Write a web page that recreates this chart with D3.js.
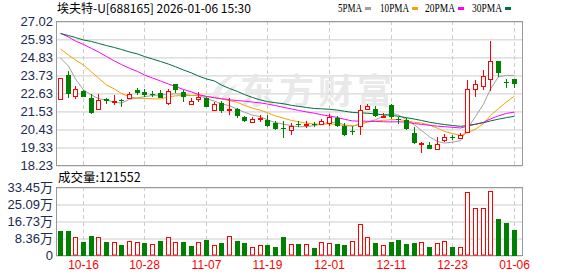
<!DOCTYPE html>
<html>
<head>
<meta charset="utf-8">
<script src="https://cdn.jsdelivr.net/npm/d3@7/dist/d3.min.js"></script>
<style>
    body { margin: 0; background: #fff; }
    svg { display: block; font-family: "Liberation Sans", Arial, sans-serif; }
</style>
</head>
<body>
<svg id="chart" width="578" height="276"></svg>
<script>
// ---- data ----
const dates = [
    "10-13", "10-14", "10-15", "10-16", "10-17", "10-20", "10-21", "10-22", "10-23", "10-24",
    "10-27", "10-28", "10-29", "10-30", "10-31", "11-03", "11-04", "11-05", "11-06", "11-07",
    "11-10", "11-11", "11-12", "11-13", "11-14", "11-17", "11-18", "11-19", "11-20", "11-21",
    "11-24", "11-25", "11-26", "11-27", "11-28", "12-01", "12-02", "12-03", "12-04", "12-05",
    "12-08", "12-09", "12-10", "12-11", "12-12", "12-15", "12-16", "12-17", "12-18", "12-19",
    "12-22", "12-23", "12-24", "12-25", "12-26", "12-29", "12-30", "12-31", "01-05", "01-06"
];
const opens = [
    22.24, 23.72, 22.46, 22.75, 22.30, 21.63, 22.24, 22.08, 22.22, 22.29,
    22.81, 22.67, 22.58, 22.61, 22.04, 23.15, 22.69, 21.98, 22.26, 22.29,
    21.56, 22.00, 21.57, 21.62, 21.14, 20.87, 21.04, 21.00, 20.79, 20.47,
    20.34, 20.75, 20.70, 20.73, 20.71, 20.81, 21.12, 20.59, 20.33, 20.64,
    21.62, 21.63, 21.19, 21.89, 21.02, 20.98, 20.16, 19.55, 19.45, 19.21,
    19.74, 19.91, 19.90, 20.26, 22.85, 23.05, 23.46, 24.56, 23.30, 23.46
];
const highs = [
    23.56, 23.97, 23.05, 22.79, 22.55, 22.56, 22.34, 22.50, 22.25, 22.67,
    22.95, 22.85, 22.75, 22.81, 22.87, 23.17, 22.81, 22.34, 22.67, 22.36,
    22.07, 22.15, 22.32, 21.69, 21.24, 21.16, 21.26, 21.31, 20.91, 20.91,
    20.79, 20.93, 20.94, 20.88, 21.02, 21.34, 21.22, 20.77, 20.61, 21.89,
    21.95, 21.83, 21.38, 21.95, 21.18, 21.07, 20.57, 19.63, 19.66, 19.94,
    20.10, 20.06, 20.16, 23.42, 23.39, 24.03, 25.78, 24.56, 23.46, 23.46
];
const lows = [
    22.20, 22.34, 22.24, 22.36, 21.32, 21.63, 21.98, 21.92, 21.74, 22.25,
    22.50, 22.38, 22.38, 22.30, 21.92, 22.62, 22.06, 21.94, 22.07, 21.75,
    21.56, 21.40, 21.28, 21.10, 20.84, 20.79, 20.88, 20.55, 20.37, 19.86,
    20.09, 20.57, 20.46, 20.55, 20.65, 20.64, 20.52, 20.02, 20.06, 20.08,
    21.56, 21.18, 21.07, 21.01, 20.71, 20.37, 19.51, 18.98, 19.19, 19.17,
    19.65, 19.76, 19.80, 20.16, 22.40, 22.81, 22.75, 23.63, 22.96, 22.90
];
const closes = [
    23.52, 22.55, 22.85, 22.40, 21.39, 22.20, 22.15, 22.14, 22.17, 22.55,
    22.62, 22.50, 22.53, 22.35, 22.72, 22.78, 22.38, 22.14, 22.38, 21.79,
    21.94, 21.54, 21.62, 21.24, 20.91, 21.02, 21.10, 20.64, 20.44, 20.41,
    20.61, 20.69, 20.76, 20.67, 20.90, 21.18, 20.59, 20.06, 20.27, 21.57,
    21.83, 21.24, 21.25, 21.13, 20.96, 20.41, 19.59, 19.60, 19.19, 19.51,
    19.94, 19.88, 20.09, 22.85, 23.17, 23.69, 24.55, 23.83, 23.25, 23.16
];
const ma5 = [
    24.76, 24.27, 23.48, 22.81, 22.50, 22.28, 22.20, 22.06, 22.01, 22.24,
    22.33, 22.40, 22.47, 22.51, 22.54, 22.58, 22.55, 22.47, 22.48, 22.29,
    22.13, 21.96, 21.85, 21.63, 21.45, 21.27, 21.18, 20.98, 20.82, 20.72,
    20.64, 20.56, 20.58, 20.63, 20.73, 20.84, 20.82, 20.68, 20.60, 20.73,
    20.86, 20.99, 21.23, 21.40, 21.28, 21.00, 20.67, 20.34, 19.95, 19.66,
    19.57, 19.62, 19.72, 20.45, 21.19, 21.94, 22.87, 23.62, 23.70, 23.70
];
const ma10 = [
    25.31, 24.94, 24.64, 24.33, 23.91, 23.54, 23.11, 22.87, 22.59, 22.39,
    22.30, 22.30, 22.27, 22.26, 22.39, 22.45, 22.47, 22.47, 22.50, 22.42,
    22.35, 22.26, 22.16, 22.05, 21.87, 21.70, 21.57, 21.42, 21.22, 21.09,
    20.95, 20.87, 20.78, 20.73, 20.72, 20.74, 20.69, 20.63, 20.61, 20.73,
    20.85, 20.91, 20.96, 21.00, 21.01, 20.93, 20.83, 20.79, 20.68, 20.47,
    20.28, 20.15, 20.03, 20.20, 20.42, 20.75, 21.25, 21.67, 22.08, 22.44
];
const ma20 = [
    26.27, 26.04, 25.80, 25.59, 25.34, 25.13, 24.85, 24.58, 24.36, 24.13,
    23.94, 23.72, 23.54, 23.36, 23.17, 23.02, 22.84, 22.69, 22.53, 22.41,
    22.33, 22.28, 22.21, 22.16, 22.13, 22.07, 22.02, 21.95, 21.86, 21.75,
    21.65, 21.56, 21.47, 21.39, 21.30, 21.22, 21.13, 21.02, 20.92, 20.91,
    20.90, 20.89, 20.87, 20.86, 20.87, 20.84, 20.76, 20.71, 20.65, 20.60,
    20.57, 20.53, 20.49, 20.60, 20.72, 20.84, 21.04, 21.23, 21.38, 21.46
];
const ma30 = [
    26.26, 26.13, 26.01, 25.86, 25.77, 25.65, 25.52, 25.40, 25.28, 25.13,
    25.01, 24.85, 24.70, 24.55, 24.39, 24.23, 24.03, 23.85, 23.66, 23.48,
    23.36, 23.11, 22.90, 22.72, 22.53, 22.35, 22.20, 22.10, 22.03, 21.97,
    21.87, 21.81, 21.74, 21.68, 21.66, 21.63, 21.58, 21.51, 21.44, 21.41,
    21.39, 21.34, 21.30, 21.26, 21.20, 21.12, 21.03, 20.95, 20.84, 20.76,
    20.70, 20.64, 20.59, 20.64, 20.72, 20.81, 20.92, 21.03, 21.12, 21.21
];
// volume in 万, and whether the bar is drawn red (1) or green (0)
const volumes = [
    11.8, 11.8, 8.7, 6.4, 9.3, 8.7, 6.4, 6.2, 4.9, 6.7,
    6.2, 5.9, 5.3, 6.9, 8.7, 6.2, 6.4, 4.4, 6.5, 7.4,
    4.9, 5.9, 9.3, 6.9, 5.9, 3.9, 4.9, 4.9, 4.1, 9.0,
    5.4, 5.4, 5.4, 3.6, 6.2, 5.7, 5.4, 4.9, 6.9, 15.1,
    8.9, 5.9, 4.9, 6.4, 7.4, 5.4, 5.9, 6.2, 3.9, 5.9,
    6.9, 3.9, 3.9, 30.8, 23.0, 23.0, 31.3, 17.7, 15.7, 12.16
];
const volUp = [
    0, 0, 1, 0, 0, 1, 0, 1, 0, 1,
    1, 0, 1, 0, 1, 1, 0, 0, 1, 0,
    1, 0, 1, 0, 0, 1, 1, 0, 0, 0,
    1, 0, 1, 0, 1, 1, 0, 0, 1, 1,
    1, 0, 1, 0, 0, 0, 0, 1, 0, 1,
    1, 0, 1, 1, 1, 1, 1, 0, 0, 0
];
const priceTicks = [18.23, 19.33, 20.43, 21.53, 22.63, 23.73, 24.83, 25.93, 27.02];
const volTicks = [0, 8.36, 16.73, 25.09, 33.45];
const dateTicks = ["10-16", "10-28", "11-07", "11-19", "12-01", "12-11", "12-23", "01-06"];
const maNames = ["5PMA", "10PMA", "20PMA", "30PMA"];
const title = "埃夫特-U[688165] 2026-01-06 15:30";
const volTitle = "成交量:121552";

// ---- layout ----
const svg = d3.select("#chart");
const left = 56, right = 522;
const priceTop = 21, priceBottom = 165;
const volTop = 187, volBottom = 255;
const RED = "#ff0000", GREEN = "#008000";
const maColors = ["#a0a0a0", "#f5a300", "#ff00ff", "#00703c"];
const axisColor = "#1a2a50";

const x = d3.scaleBand().domain(dates).range([left, left + dates.length * 7.69]);
const cx = (d) => Math.round(x(d) + x.bandwidth() / 2);
const y = d3.scaleLinear().domain([18.23, 27.02]).range([priceBottom, priceTop]);
const yv = d3.scaleLinear().domain([0, 33.45]).range([volBottom, volTop]);

// horizontal grid + price labels
svg.append("g")
    .attr("transform", `translate(${ left },0)`)
    .call(d3.axisLeft(y).tickValues(priceTicks).tickSize(-(right - left)).tickPadding(3).tickFormat(d3.format(".2f")))
    .call((g) => g.select(".domain").remove())
    .call((g) => g.selectAll("line").attr("stroke", "#cccccc").attr("transform", "translate(0,0.5)"))
    .call((g) => g.selectAll("text").attr("fill", axisColor).attr("font-size", 13));

svg.append("g")
    .attr("transform", `translate(${ left },0)`)
    .call(d3.axisLeft(yv).tickValues(volTicks).tickSize(-(right - left)).tickPadding(3)
        .tickFormat((d) => d === 0 ? "0" : d3.format(".2f")(d) + "万"))
    .call((g) => g.select(".domain").remove())
    .call((g) => g.selectAll("line").attr("stroke", "#cccccc").attr("transform", "translate(0,0.5)"))
    .call((g) => g.selectAll("text").attr("fill", axisColor).attr("font-size", 13)
        .attr("font-family", "'Liberation Sans', 'Noto Sans CJK SC', sans-serif"));

// vertical dashed grid in both panels
[[priceTop, priceBottom], [volTop, volBottom]].forEach(([t, b]) => {
    svg.append("g")
        .selectAll("line")
        .data(dateTicks)
        .join("line")
        .attr("x1", (d) => cx(d) + 0.5)
        .attr("x2", (d) => cx(d) + 0.5)
        .attr("y1", t)
        .attr("y2", b)
        .attr("stroke", "#cccccc")
        .attr("stroke-dasharray", "4,3");
});

// date labels
svg.append("g")
    .selectAll("text")
    .data(dateTicks)
    .join("text")
    .attr("x", (d) => cx(d) + 0.5)
    .attr("y", 269)
    .attr("text-anchor", "middle")
    .attr("font-size", 12)
    .attr("fill", RED)
    .text((d) => d);

// watermark: swoosh logo + name
const mark = svg.append("g").attr("fill", "#e6e6e6").attr("fill-opacity", 0.85);
mark.append("path")
    .attr("d", "M212,98 C214,86 224,76 238,74 C228,79 221,87 219,98 Z M222,99 C225,91 231,86 238,84 C233,89 230,94 229,99 Z");
mark.append("text")
    .attr("x", 240)
    .attr("y", 104)
    .attr("font-size", 35)
    .attr("font-weight", "bold")
    .attr("letter-spacing", 4)
    .attr("font-family", "'Noto Sans CJK SC', sans-serif")
    .text("东方财富");

// panel frames
svg.append("rect")
    .attr("x", left + 0.5).attr("y", priceTop + 0.5)
    .attr("width", right - left).attr("height", priceBottom - priceTop)
    .attr("fill", "none").attr("stroke", "#999999");
svg.append("rect")
    .attr("x", left + 0.5).attr("y", volTop + 0.5)
    .attr("width", right - left).attr("height", volBottom - volTop)
    .attr("fill", "none").attr("stroke", "#999999");

// moving averages
const maLine = d3.line()
    .x((d, i) => cx(dates[i]) + 0.5)
    .y((d) => y(d));
const maGroup = svg.append("g").attr("fill", "none").attr("stroke-width", 1);
[ma5, ma10, ma20, ma30].forEach((series, k) => {
    maGroup.append("path")
        .datum(series)
        .attr("stroke", maColors[k])
        .attr("d", maLine);
});

// candles
const candles = dates.map((d, i) => ({
    date: d, o: opens[i], h: highs[i], l: lows[i], c: closes[i], up: closes[i] >= opens[i]
}));
const cg = svg.append("g");
candles.forEach((k) => {
    const xc = cx(k.date);
    const top = Math.round(y(Math.max(k.o, k.c)));
    const bot = Math.max(Math.round(y(Math.min(k.o, k.c))), top + 1);
    const hi = Math.round(y(k.h));
    const lo = Math.round(y(k.l));
    const col = k.up ? RED : GREEN;
    if (k.up) {
        cg.append("line").attr("x1", xc + 0.5).attr("x2", xc + 0.5).attr("y1", hi).attr("y2", top).attr("stroke", col);
        cg.append("line").attr("x1", xc + 0.5).attr("x2", xc + 0.5).attr("y1", bot).attr("y2", lo).attr("stroke", col);
        cg.append("rect")
            .attr("x", xc - 1.5).attr("y", top + 0.5)
            .attr("width", 4).attr("height", Math.max(bot - top, 1))
            .attr("fill", "#fff").attr("stroke", col);
    } else {
        cg.append("line").attr("x1", xc + 0.5).attr("x2", xc + 0.5).attr("y1", hi).attr("y2", lo).attr("stroke", col);
        cg.append("rect")
            .attr("x", xc - 2).attr("y", top)
            .attr("width", 5).attr("height", Math.max(bot - top, 1))
            .attr("fill", col);
    }
});

// volume bars
svg.append("g")
    .selectAll("rect")
    .data(volumes)
    .join("rect")
    .each(function (v, i) {
        const xc = cx(dates[i]);
        const top = Math.round(yv(v));
        const r = d3.select(this);
        if (volUp[i]) {
            r.attr("x", xc - 1.5).attr("y", top + 0.5)
                .attr("width", 4).attr("height", volBottom - top - 0.5)
                .attr("fill", "#fff").attr("stroke", RED);
        } else {
            r.attr("x", xc - 2).attr("y", top)
                .attr("width", 5).attr("height", volBottom - top + 1)
                .attr("fill", GREEN);
        }
    });

// header texts
svg.append("text")
    .attr("x", 57)
    .attr("y", 13)
    .attr("font-size", 12)
    .attr("font-family", "'Noto Sans CJK SC', sans-serif")
    .attr("fill", "#000")
    .text(title);

svg.append("text")
    .attr("x", 58)
    .attr("y", 182)
    .attr("font-size", 12.5)
    .attr("font-family", "'Noto Sans CJK SC', sans-serif")
    .attr("fill", "#000")
    .text(volTitle);

// legend
const legendX = [338, 380, 425, 472];
const legendW = [24, 29, 30, 30];
const legend = svg.append("g")
    .attr("font-size", 12)
    .attr("font-family", "'Liberation Serif', serif");
maNames.forEach((name, k) => {
    legend.append("text")
        .attr("x", legendX[k])
        .attr("y", 12)
        .attr("textLength", legendW[k])
        .attr("lengthAdjust", "spacingAndGlyphs")
        .attr("fill", "#000")
        .text(name);
    legend.append("rect")
        .attr("x", legendX[k] + legendW[k] + 3)
        .attr("y", 7)
        .attr("width", 6)
        .attr("height", 3)
        .attr("fill", maColors[k]);
});
</script>
</body>
</html>
